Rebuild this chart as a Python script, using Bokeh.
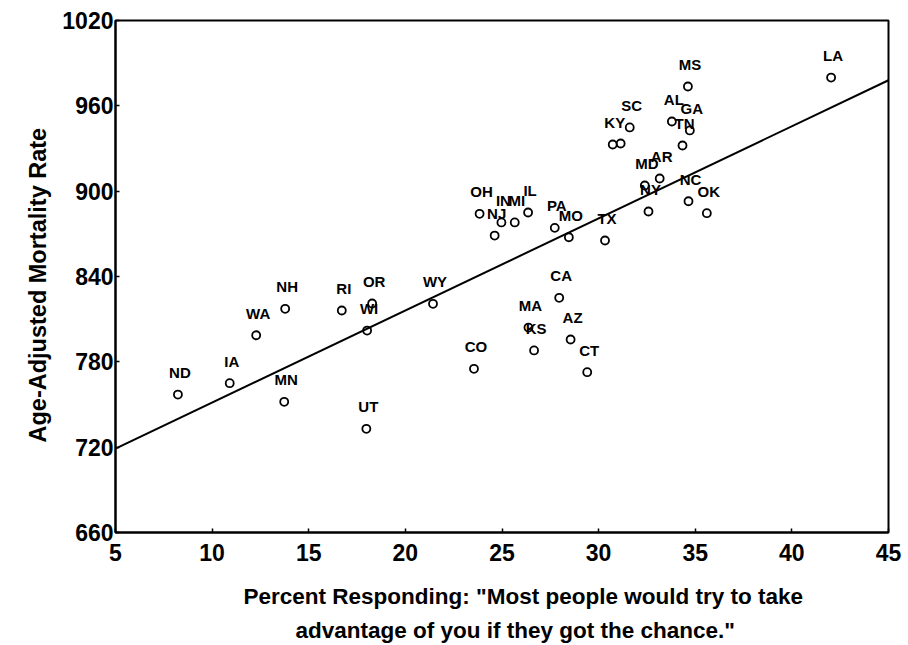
from bokeh.plotting import figure
from bokeh.models import ColumnDataSource, FixedTicker, Title, Range1d
from bokeh.embed import file_html
from bokeh.resources import INLINE
from bokeh.core.properties import value

# ---- data ----
states = ["ND", "IA", "WA", "NH", "MN", "RI", "OR", "WI", "UT", "WY",
          "CO", "OH", "IN", "MI", "IL", "NJ", "PA", "MO", "TX", "CA",
          "MA", "KS", "AZ", "CT", "MS", "AL", "GA", "TN", "SC", "KY",
          "", "AR", "MD", "NY", "NC", "OK", "LA"]
pct_responding = [8.23, 10.91, 12.28, 13.78, 13.73, 16.71, 18.28, 18.02, 17.98, 21.43,
                  23.55, 23.84, 24.97, 25.66, 26.35, 24.62, 27.73, 28.46, 30.33, 27.96,
                  26.37, 26.66, 28.55, 29.41, 34.62, 33.79, 34.72, 34.34, 31.61, 30.73,
                  31.14, 33.16, 32.39, 32.58, 34.65, 35.60, 42.03]
mortality = [757.0, 765.0, 798.7, 817.3, 751.9, 816.1, 821.0, 802.0, 732.9, 820.8,
             775.1, 884.1, 878.0, 878.0, 885.0, 868.8, 874.2, 867.6, 865.3, 825.0,
             804.1, 788.0, 795.7, 772.7, 973.6, 949.0, 942.7, 932.1, 944.8, 932.8,
             933.5, 908.9, 904.0, 885.7, 892.9, 884.5, 979.9]

fit_x = [5, 45]
fit_y = [719, 978]

x_ticks = [5, 10, 15, 20, 25, 30, 35, 40, 45]
y_ticks = [660, 720, 780, 840, 900, 960, 1020]

x_title_1 = 'Percent Responding: "Most people would try to take'
x_title_2 = 'advantage of you if they got the chance."'
y_title = "Age-Adjusted Mortality Rate"

FONT = "Liberation Sans"

src = ColumnDataSource(dict(x=pct_responding, y=mortality, label=states))

p = figure(width=908, height=645, output_backend="svg", toolbar_location=None,
           x_range=Range1d(5, 45), y_range=Range1d(660, 1020),
           min_border_left=115, min_border_right=20, min_border_top=20,
           min_border_bottom=113)

p.background_fill_color = "white"
p.border_fill_color = "white"
p.outline_line_color = "black"
p.outline_line_width = 2
p.grid.visible = False

p.line(fit_x, fit_y, line_color="black", line_width=2)
p.scatter("x", "y", source=src, size=8, marker="circle", fill_alpha=0,
          line_color="black", line_width=1.8)
p.text("x", "y", text="label", source=src, text_font=value(FONT),
       text_font_size="15px", text_font_style="bold", text_color="black",
       text_align="center", text_baseline="middle", x_offset=2, y_offset=-22)

for ax in (p.xaxis[0], p.yaxis[0]):
    ax.axis_line_color = "black"
    ax.axis_line_width = 2
    ax.major_tick_in = 4
    ax.major_tick_out = 0
    ax.major_tick_line_color = "black"
    ax.major_tick_line_width = 1.5
    ax.minor_tick_line_color = None
    ax.major_label_text_font = FONT
    ax.major_label_text_font_size = "23px"
    ax.major_label_text_font_style = "bold"
    ax.major_label_text_color = "black"

p.xaxis.ticker = FixedTicker(ticks=x_ticks)
p.yaxis.ticker = FixedTicker(ticks=y_ticks)
p.xaxis.major_label_standoff = 11
p.yaxis.major_label_standoff = 2

ty = Title(text=y_title, align="left", offset=90, standoff=18,
           text_font=FONT, text_font_size="23.5px", text_font_style="bold",
           text_color="black")
p.add_layout(ty, "left")

t1 = Title(text=x_title_1, align="left", offset=128, standoff=37,
           text_font=FONT, text_font_size="22.5px", text_font_style="bold",
           text_color="black")
t2 = Title(text=x_title_2, align="left", offset=180, standoff=-30,
           text_font=FONT, text_font_size="22.5px", text_font_style="bold",
           text_color="black")
p.add_layout(t1, "below")
p.add_layout(t2, "below")

open("out.html", "w").write(file_html(p, INLINE))
